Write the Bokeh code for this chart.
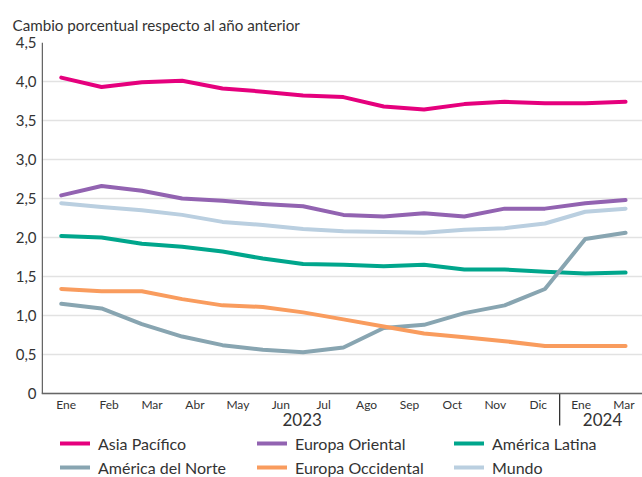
from bokeh.plotting import figure
from bokeh.models import (Range1d, FixedTicker, LinearAxis, Legend, LegendItem, Span)
from bokeh.core.properties import value
from bokeh.embed import file_html
from bokeh.resources import INLINE

# ---- data ----
months = ["Ene", "Feb", "Mar", "Abr", "May", "Jun", "Jul", "Ago", "Sep", "Oct",
          "Nov", "Dic", "Ene", "Feb", "Mar"]
tick_labels = ["Ene", "Feb", "Mar", "Abr", "May", "Jun", "Jul", "Ago", "Sep", "Oct",
               "Nov", "Dic", "Ene", "Mar"]
years = ["2023", "2024"]
year_spans = [(0, 11), (12, 13)]  # tick-label index span of each year

asia_pacifico = [4.05, 3.93, 3.99, 4.01, 3.91, 3.87, 3.82, 3.80, 3.68, 3.64, 3.71, 3.74, 3.72, 3.72, 3.74]
europa_oriental = [2.54, 2.66, 2.60, 2.50, 2.47, 2.43, 2.40, 2.29, 2.27, 2.31, 2.27, 2.37, 2.37, 2.44, 2.48]
america_latina = [2.02, 2.00, 1.92, 1.88, 1.82, 1.73, 1.66, 1.65, 1.63, 1.65, 1.59, 1.59, 1.56, 1.54, 1.55]
america_norte = [1.15, 1.09, 0.89, 0.73, 0.62, 0.56, 0.53, 0.59, 0.84, 0.88, 1.03, 1.13, 1.34, 1.98, 2.06]
europa_occidental = [1.34, 1.31, 1.31, 1.21, 1.13, 1.11, 1.04, 0.95, 0.86, 0.77, 0.72, 0.67, 0.61, 0.61, 0.61]
mundo = [2.44, 2.39, 2.35, 2.29, 2.20, 2.16, 2.11, 2.08, 2.07, 2.06, 2.10, 2.12, 2.18, 2.33, 2.37]

y_ticks = [0, 0.5, 1.0, 1.5, 2.0, 2.5, 3.0, 3.5, 4.0, 4.5]
y_tick_labels = ["0", "0,5", "1,0", "1,5", "2,0", "2,5", "3,0", "3,5", "4,0", "4,5"]

series = [
    ("Asia Pacífico", asia_pacifico, "#e5007d"),
    ("Europa Oriental", europa_oriental, "#9263b1"),
    ("América Latina", america_latina, "#00a68c"),
    ("América del Norte", america_norte, "#88a5b1"),
    ("Europa Occidental", europa_occidental, "#f99c5e"),
    ("Mundo", mundo, "#bacfe0"),
]

FONT = "Lato"
TXT = "#333333"

# ---- layout constants ----
W, H = 642, 477
BORDER_L, BORDER_T = 41, 42
FRAME_H = H - BORDER_T
Y_MAX = 4.5
PX_PER_UNIT = 78.0                      # 351 px for the 0..4.5 value range
Y_MIN = Y_MAX - FRAME_H / PX_PER_UNIT   # the frame also holds the axis-label area
UPP = 1.0 / PX_PER_UNIT                 # value units per pixel
X_MIN, X_MAX = -0.49, 14.42
XUPP = (X_MAX - X_MIN) / (W - BORDER_L)

x = list(range(len(months)))
# tick labels are evenly spread (slightly wider than the data spacing)
lab_a, lab_b = 0.124, 1.0644
label_pos = [lab_a + k * lab_b for k in range(len(tick_labels))]
sep_pos = lab_a + 11.5 * lab_b
year_pos = [lab_a + (s + e) / 2 * lab_b for s, e in year_spans]

p = figure(width=W, height=H,
           x_range=Range1d(X_MIN, X_MAX), y_range=Range1d(Y_MIN, Y_MAX),
           output_backend="svg", toolbar_location=None,
           min_border_left=BORDER_L, min_border_right=0, min_border_top=BORDER_T,
           min_border_bottom=0,
           x_axis_location=None, y_axis_location=None)
p.outline_line_color = None
p.xgrid.visible = False

p.title.text = "Cambio porcentual respecto al año anterior"
p.title.text_font = FONT
p.title.text_font_size = "15.2px"
p.title.text_font_style = "normal"
p.title.text_color = TXT
p.title.align = "left"
p.title.offset = -29
p.title.standoff = 17

# y axis (labels only; its line is drawn between 0 and 4.5 below)
yax = LinearAxis(ticker=FixedTicker(ticks=y_ticks))
yax.major_label_overrides = {t: l for t, l in zip(y_ticks, y_tick_labels)}
yax.major_tick_out = 0
yax.major_tick_in = 0
yax.minor_tick_line_color = None
yax.axis_line_color = None
yax.major_label_standoff = 5
yax.major_label_text_font = FONT
yax.major_label_text_font_size = "15px"
yax.major_label_text_color = TXT
p.add_layout(yax, "left")
p.ygrid.ticker = FixedTicker(ticks=y_ticks)
p.ygrid.grid_line_color = "#e2e2e2"
p.ygrid.grid_line_width = 1.5

items = []
for name, vals, col in series:
    r = p.line(x, vals, line_color=col, line_width=4, line_cap="round", line_join="round")
    items.append(LegendItem(label=name, renderers=[r]))

# axis lines
p.add_layout(Span(location=0, dimension="width", line_color="#666666", line_width=1.5))
p.segment(x0=[X_MIN + 0.75 * XUPP], y0=[0], x1=[X_MIN + 0.75 * XUPP], y1=[Y_MAX],
          line_color="#666666", line_width=1.5)
# year separator
p.segment(x0=[sep_pos], y0=[0], x1=[sep_pos], y1=[-32 * UPP],
          line_color="#333333", line_width=1.3)

# month and year labels
p.text(x=label_pos, y=[-11 * UPP] * len(label_pos), text=tick_labels,
       text_font=value(FONT), text_font_size="12px", text_color=TXT,
       text_align="center", text_baseline="middle")
p.text(x=year_pos, y=[-26 * UPP] * len(year_pos), text=years,
       text_font=value(FONT), text_font_size="17px", text_color=TXT,
       text_align="center", text_baseline="middle")

legend = Legend(items=items, ncols=3, orientation="horizontal",
                location=(19, 0), margin=0, padding=0, spacing=4,
                glyph_width=30, glyph_height=20, label_height=20, label_width=155,
                label_standoff=8,
                label_text_font=FONT, label_text_font_size="16px", label_text_color=TXT,
                border_line_color=None, background_fill_alpha=0)
p.add_layout(legend, "center")

open("out.html", "w").write(file_html(p, INLINE))
